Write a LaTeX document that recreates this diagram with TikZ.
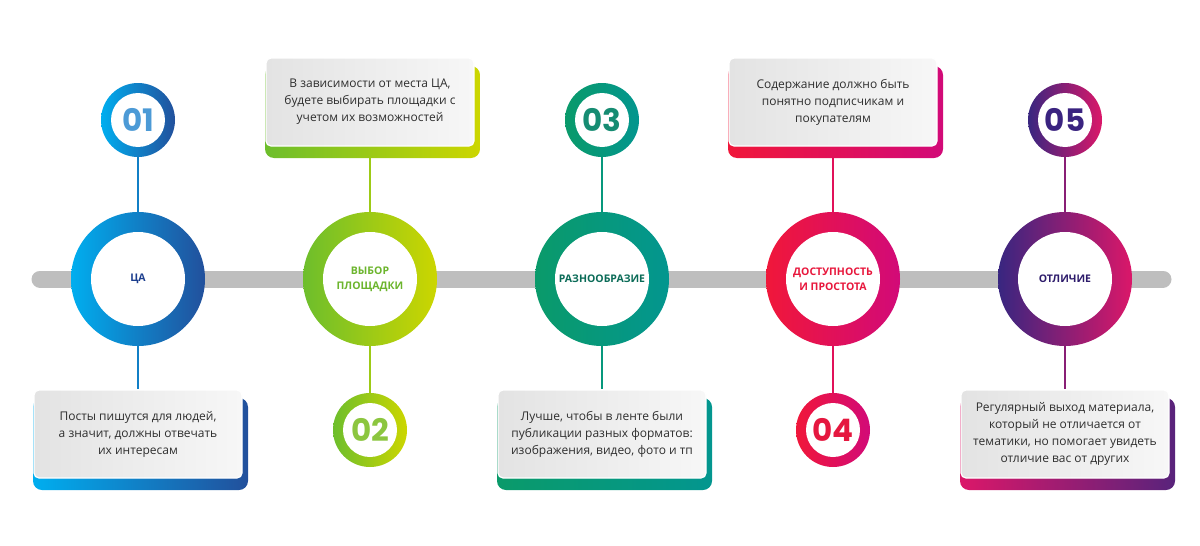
\documentclass[tikz,border=0pt]{standalone}
\usepackage{fontspec}
\setmainfont{Open Sans}
\newfontfamily\numfont{Poppins}
\definecolor{bA}{HTML}{00AEEF}\definecolor{bB}{HTML}{22509C}\definecolor{bN}{HTML}{4C9AD6}\definecolor{bT}{HTML}{1C3E8E}
\definecolor{gA}{HTML}{6DBE2C}\definecolor{gB}{HTML}{CCD600}\definecolor{gN}{HTML}{8CC63F}\definecolor{gT}{HTML}{6CB52D}
\definecolor{tA}{HTML}{0A9A6A}\definecolor{tB}{HTML}{03968F}\definecolor{tN}{HTML}{168C72}\definecolor{tT}{HTML}{0A6B57}
\definecolor{rA}{HTML}{F0173A}\definecolor{rB}{HTML}{D20A78}\definecolor{rN}{HTML}{E5173F}\definecolor{rT}{HTML}{E8173C}
\definecolor{pA}{HTML}{382680}\definecolor{pB}{HTML}{DB1769}\definecolor{pN}{HTML}{3A2380}\definecolor{pT}{HTML}{2D1B6B}
\definecolor{track}{HTML}{BEBEBE}
\definecolor{panelL}{HTML}{E3E3E3}
\definecolor{panelR}{HTML}{F7F7F7}
\definecolor{bodytext}{HTML}{2E2E2E}
\begin{document}
\begin{tikzpicture}[x=1pt,y=-1pt,
  ring/.style 2 args={circle, minimum size=134pt, inner sep=0pt, left color=#1, right color=#2},
  hole/.style={circle, fill=white, minimum size=94pt, inner sep=0pt, align=center,
    font=\bfseries\fontsize{10.5}{15}\selectfont},
  badge/.style 2 args={circle, minimum size=74pt, inner sep=0pt, left color=#1, right color=#2},
  badgehole/.style={circle, fill=white, minimum size=54pt, inner sep=0pt,
    font=\numfont\bfseries\fontsize{31}{31}\selectfont},
  backing/.style 2 args={rectangle, minimum width=215pt, minimum height=92pt, inner sep=0pt,
    rounded corners=9pt, left color=#1, right color=#2},
  panel/.style={rectangle, minimum width=208pt, minimum height=88pt, inner sep=0pt,
    rounded corners=5pt, left color=panelL, right color=panelR, draw=white, line width=1.2pt,
    align=center, text=bodytext, font=\fontsize{12}{17}\selectfont},
  conn/.style={line width=1.8pt}
]
\useasboundingbox (0,0) rectangle (1200,546);

% timeline track
\coordinate (tl) at (40,279);
\coordinate (tr) at (1163,279);
\draw[track, line width=17pt, line cap=round] (tl) -- (tr);

% 1: ЦА
\node[ring={bA}{bB}] (c1) at (138,279) {};
\node[hole, text=bT] (h1) at (c1) {ЦА};
\node[badge={bA}{bB}] (s1) at (138,120) {};
\node[badgehole, text=bN] (n1) at (s1) {01};
\node[backing={bA}{bB}] (k1) at (140.5,444) {};
\node[panel] (p1) at (138,434) {Посты пишутся для людей,\\а значит, должны отвечать\\их интересам};
\draw[conn, bA!50!bB] (s1.south) -- (c1.north);
\draw[conn, bA!50!bB] (c1.south) -- (p1.north);

% 2: выбор площадки
\node[ring={gA}{gB}] (c2) at (370,279) {};
\node[hole, text=gT] (h2) at (c2) {ВЫБОР\\ПЛОЩАДКИ};
\node[badge={gA}{gB}] (s2) at (370,430) {};
\node[badgehole, text=gN] (n2) at (s2) {02};
\node[backing={gA}{gB}] (k2) at (372.5,112) {};
\node[panel] (p2) at (370,102) {В зависимости от места ЦА,\\будете выбирать площадки с\\учетом их возможностей};
\draw[conn, gA!50!gB] (c2.north) -- (c2.north |- k2.south);
\draw[conn, gA!50!gB] (c2.south) -- (s2.north);

% 3: разнообразие
\node[ring={tA}{tB}] (c3) at (602,279) {};
\node[hole, text=tT] (h3) at (c3) {РАЗНООБРАЗИЕ};
\node[badge={tA}{tB}] (s3) at (602,120) {};
\node[badgehole, text=tN] (n3) at (s3) {03};
\node[backing={tA}{tB}] (k3) at (604.5,444) {};
\node[panel] (p3) at (602,434) {Лучше, чтобы в ленте были\\публикации разных форматов:\\изображения, видео, фото и тп};
\draw[conn, tA!50!tB] (s3.south) -- (c3.north);
\draw[conn, tA!50!tB] (c3.south) -- (p3.north);

% 4: доступность и простота
\node[ring={rA}{rB}] (c4) at (833,279) {};
\node[hole, text=rT] (h4) at (c4) {ДОСТУПНОСТЬ\\И ПРОСТОТА};
\node[badge={rA}{rB}] (s4) at (833,430) {};
\node[badgehole, text=rN] (n4) at (s4) {04};
\node[backing={rA}{rB}] (k4) at (835.5,112) {};
\node[panel] (p4) at (833,102) {Содержание должно быть\\понятно подписчикам и\\покупателям};
\draw[conn, rA!50!rB] (c4.north) -- (c4.north |- k4.south);
\draw[conn, rA!50!rB] (c4.south) -- (s4.north);

% 5: отличие
\node[ring={pA}{pB}] (c5) at (1065,279) {};
\node[hole, text=pT] (h5) at (c5) {ОТЛИЧИЕ};
\node[badge={pA}{pB}] (s5) at (1065,120) {};
\node[badgehole, text=pN] (n5) at (s5) {05};
\node[backing={pB}{pA!80!pB}] (k5) at (1067.5,444) {};
\node[panel] (p5) at (1065,434) {Регулярный выход материала,\\который не отличается от\\тематики, но помогает увидеть\\отличие вас от других};
\draw[conn, pA!50!pB] (s5.south) -- (c5.north);
\draw[conn, pA!50!pB] (c5.south) -- (p5.north);
\end{tikzpicture}
\end{document}
